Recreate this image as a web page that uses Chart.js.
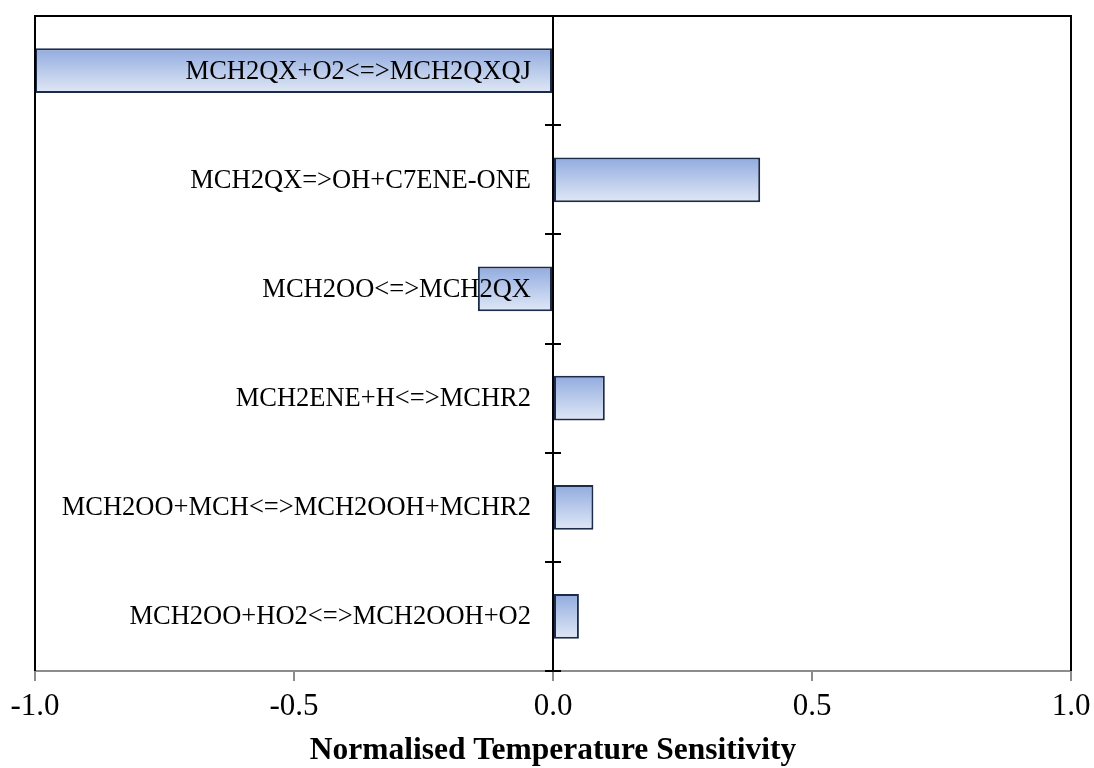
<!DOCTYPE html>
<html>
<head>
<meta charset="utf-8">
<script src="https://cdn.jsdelivr.net/npm/chart.js@4/dist/chart.umd.min.js"></script>
<style>
  html, body { margin: 0; padding: 0; background: #ffffff; }
  #wrap { width: 1094px; height: 768px; }
</style>
</head>
<body>
<div id="wrap"><canvas id="c" width="1094" height="768"></canvas></div>
<script>
// Reactions (top to bottom) and their normalised temperature sensitivities
const reactions = [
  'MCH2QX+O2<=>MCH2QXQJ',
  'MCH2QX=>OH+C7ENE-ONE',
  'MCH2OO<=>MCH2QX',
  'MCH2ENE+H<=>MCHR2',
  'MCH2OO+MCH<=>MCH2OOH+MCHR2',
  'MCH2OO+HO2<=>MCH2OOH+O2'
];
const sensitivity = [-1.0, 0.40, -0.145, 0.10, 0.078, 0.05];
const xTicks = [-1.0, -0.5, 0.0, 0.5, 1.0];
const xTitle = 'Normalised Temperature Sensitivity';

const BAR_FRACTION = 0.41;
const SERIF = '"Liberation Serif", "Times New Roman", serif';

// Vertical blue-to-pale gradient for each bar
function barFill(c) {
  const chart = c.chart;
  const area = chart.chartArea;
  if (!area || c.type !== 'data') return '#b3c5ea';
  const y = chart.scales.y.getPixelForValue(c.dataIndex);
  const half = (area.bottom - area.top) / reactions.length * BAR_FRACTION / 2;
  const g = chart.ctx.createLinearGradient(0, y - half, 0, y + half);
  g.addColorStop(0, '#91abdf');
  g.addColorStop(1, '#e0e8f6');
  return g;
}

// Black frame on top, left and right of the plot area
const framePlugin = {
  id: 'frame',
  afterDatasetsDraw(chart) {
    const {ctx, chartArea: a} = chart;
    ctx.save();
    ctx.strokeStyle = '#000000';
    ctx.lineWidth = 2;
    ctx.beginPath();
    ctx.moveTo(a.left, a.bottom);
    ctx.lineTo(a.left, a.top);
    ctx.lineTo(a.right, a.top);
    ctx.lineTo(a.right, a.bottom);
    ctx.stroke();
    ctx.restore();
  }
};

// Zero axis: vertical line, crossing ticks at category boundaries,
// and reaction names right-aligned just left of it (drawn over the bars)
const zeroAxis = {
  id: 'zeroAxis',
  afterDatasetsDraw(chart) {
    const {ctx, chartArea: a} = chart;
    const x0 = Math.round(chart.scales.x.getPixelForValue(0));
    const ys = chart.scales.y;
    ctx.save();
    ctx.strokeStyle = '#000000';
    ctx.lineWidth = 2;
    ctx.beginPath();
    ctx.moveTo(x0, a.top);
    ctx.lineTo(x0, a.bottom);
    for (let i = 1; i <= reactions.length; i++) {
      const y = Math.round(ys.getPixelForValue(i - 0.5));
      ctx.moveTo(x0 - 8, y);
      ctx.lineTo(x0 + 8, y);
    }
    ctx.stroke();
    ctx.fillStyle = '#000000';
    ctx.font = '26.5px ' + SERIF;
    ctx.textAlign = 'right';
    ctx.textBaseline = 'middle';
    chart.data.labels.forEach((lab, i) => {
      ctx.fillText(lab, x0 - 22, ys.getPixelForValue(i) + 1);
    });
    ctx.restore();
  }
};

new Chart(document.getElementById('c'), {
  type: 'bar',
  data: {
    labels: reactions,
    datasets: [{
      data: sensitivity,
      backgroundColor: barFill,
      borderColor: '#1c2b47',
      borderWidth: 2,
      borderSkipped: false,
      barPercentage: BAR_FRACTION,
      categoryPercentage: 1.0
    }]
  },
  options: {
    indexAxis: 'y',
    responsive: false,
    animation: false,
    devicePixelRatio: 1,
    layout: { padding: { left: 35, right: 23, top: 16, bottom: 0 } },
    plugins: {
      legend: { display: false },
      tooltip: { enabled: false }
    },
    scales: {
      x: {
        type: 'linear',
        position: 'bottom',
        min: -1,
        max: 1,
        afterBuildTicks(scale) {
          scale.ticks = xTicks.map(v => ({ value: v }));
        },
        afterFit(scale) {
          scale.paddingLeft = 0;
          scale.paddingRight = 0;
        },
        border: { display: true, color: '#8c8c8c', width: 2 },
        grid: { drawOnChartArea: false, drawTicks: true, tickLength: 10, color: '#8c8c8c', lineWidth: 2 },
        ticks: {
          color: '#000000',
          font: { family: SERIF, size: 31, lineHeight: 1.16 },
          padding: 8,
          maxRotation: 0,
          callback: v => Number(v).toFixed(1)
        },
        title: {
          display: true,
          text: xTitle,
          color: '#000000',
          font: { family: SERIF, size: 31.5, weight: 'bold', lineHeight: 1.08 },
          padding: { top: 1, bottom: 0 }
        }
      },
      y: {
        type: 'category',
        display: false,
        offset: true
      }
    }
  },
  plugins: [framePlugin, zeroAxis]
});
</script>
</body>
</html>
